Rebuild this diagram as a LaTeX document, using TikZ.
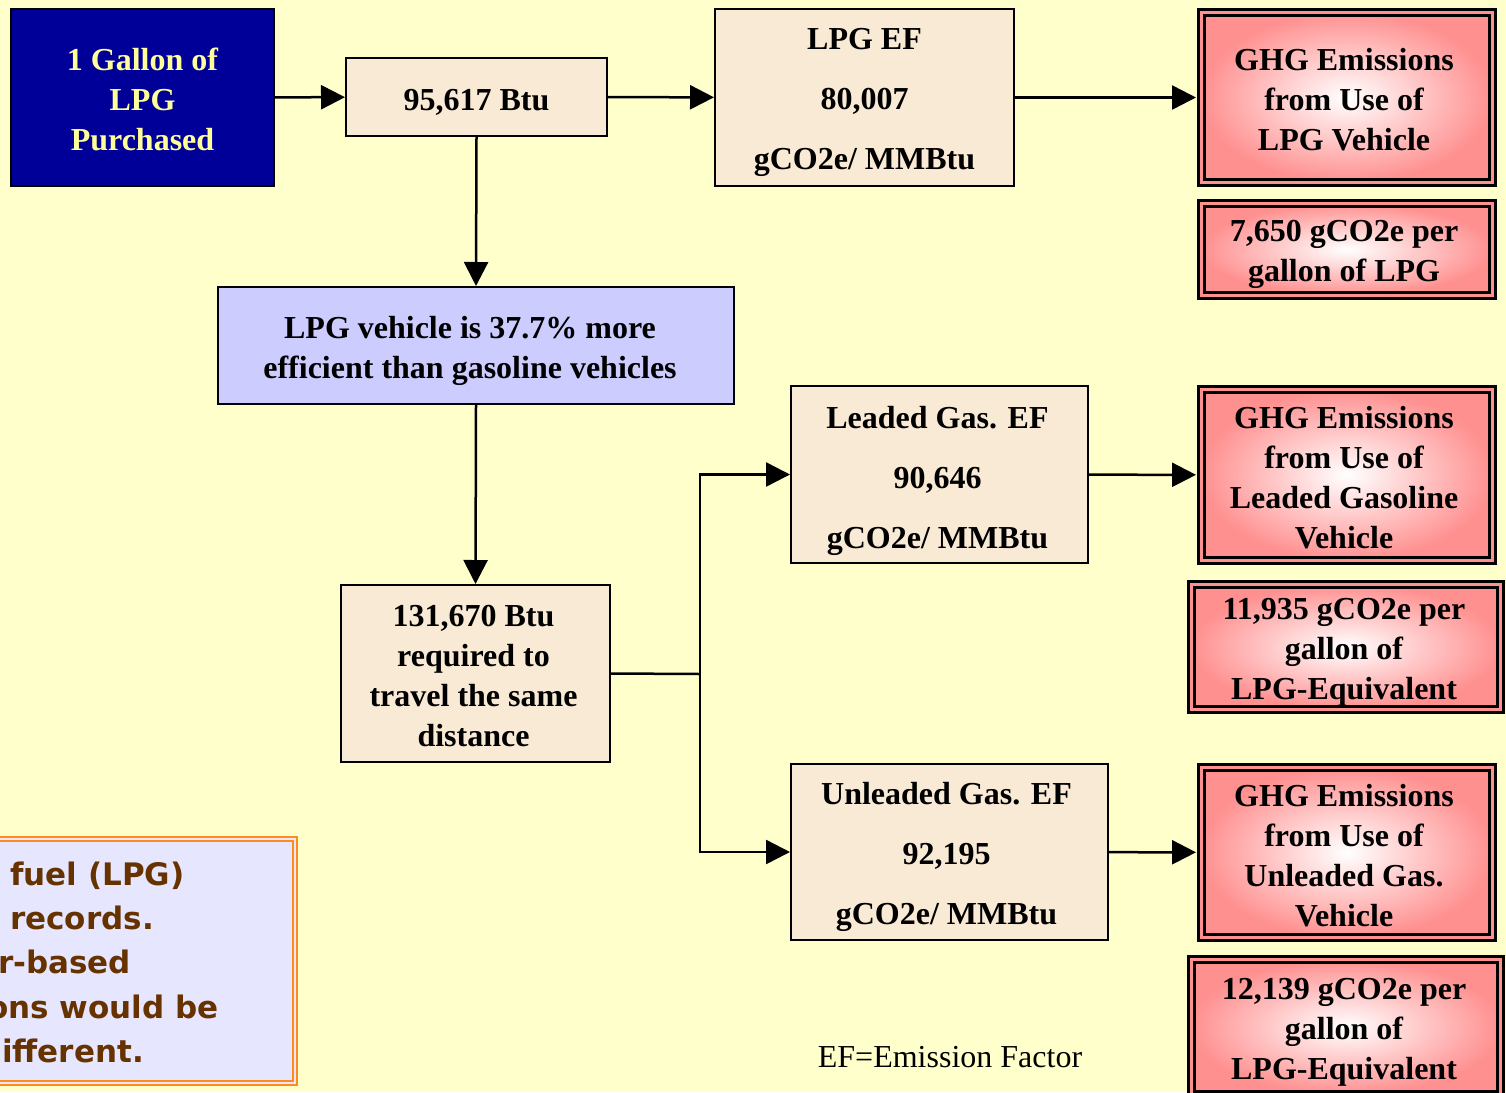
\documentclass[tikz,border=0pt]{standalone}
\usepackage{fontspec}
\setmainfont{Liberation Serif}
\newfontfamily\notefont{DejaVu Sans}
\usetikzlibrary{arrows.meta}
\definecolor{bg}{HTML}{FFFFCC}
\definecolor{navy}{HTML}{000099}
\definecolor{ltyellow}{HTML}{FFFF99}
\definecolor{beige}{HTML}{F9EAD5}
\definecolor{lav}{HTML}{CCCCFF}
\definecolor{pinkedge}{HTML}{FF9090}
\definecolor{notefill}{HTML}{E6E6FF}
\definecolor{noteedge}{HTML}{FF8C1A}
\definecolor{notetext}{HTML}{663300}
\tikzset{
  base/.style={rectangle, inner sep=0pt},
  txt/.style={align=center, inner sep=0pt, font=\bfseries\fontsize{32}{40}\selectfont},
  wide/.style={font=\bfseries\fontsize{32}{60}\selectfont},
  bluebox/.style={base, fill=navy, draw=black, line width=2pt},
  beigebox/.style={base, fill=beige, draw=black, line width=2pt},
  lavbox/.style={base, fill=lav, draw=black, line width=2pt},
  pinkbox/.style={base, inner color=white, outer color=pinkedge, draw=black, line width=3pt, double=pinkedge, double distance=3pt},
  arr/.style={line width=2.5pt, -{Triangle[length=24pt,width=24pt]}},
  conn/.style={line width=2.5pt},
}
\begin{document}
\begin{tikzpicture}[x=1pt,y=-1pt]
\useasboundingbox (0,0) rectangle (1506,1092);
\clip (0,0) rectangle (1506,1092);
\fill[bg] (0,0) rectangle (1506,1092);

% boxes
\node[bluebox, minimum width=263pt, minimum height=177pt] (gal) at (142.5,97.5) {};
\node[beigebox, minimum width=261pt, minimum height=78pt] (btu) at (476.5,97) {};
\node[beigebox, minimum width=299pt, minimum height=177pt] (lpgef) at (864.5,97.5) {};
\node[pinkbox, minimum width=291pt, minimum height=170pt] (ghg1) at (1347,97.5) {};
\node[pinkbox, minimum width=291pt, minimum height=92pt] (val1) at (1347,249.5) {};
\node[lavbox, minimum width=516pt, minimum height=117pt] (veh) at (476,345.5) {};
\node[beigebox, minimum width=269pt, minimum height=177pt] (req) at (475.5,673.5) {};
\node[beigebox, minimum width=297pt, minimum height=177pt] (lead) at (939.5,474.5) {};
\node[pinkbox, minimum width=291pt, minimum height=171pt] (ghg2) at (1347,475) {};
\node[pinkbox, minimum width=309pt, minimum height=125pt] (val2) at (1346,647) {};
\node[beigebox, minimum width=317pt, minimum height=176pt] (unl) at (949.5,852) {};
\node[pinkbox, minimum width=291pt, minimum height=170pt] (ghg3) at (1347,852.5) {};
\node[pinkbox, minimum width=309pt, minimum height=135pt] (val3) at (1346,1027) {};

% box texts
\node[txt, text=ltyellow] (gal-t) at ([yshift=-2pt]gal.center) {1 Gallon of\\LPG\\Purchased};
\node[txt] (btu-t) at ([yshift=-5pt]btu.center) {95,617 Btu};
\node[txt, wide] (lpgef-t) at ([yshift=-5pt]lpgef.center) {LPG EF\\80,007\\gCO2e/ MMBtu};
\node[txt] (ghg1-t) at ([xshift=-3pt,yshift=-2pt]ghg1.center) {GHG Emissions\\from Use of\\LPG Vehicle};
\node[txt] (val1-t) at ([xshift=-3pt,yshift=-5pt]val1.center) {7,650 gCO2e per\\gallon of LPG};
\node[txt] (veh-t) at ([xshift=-6pt,yshift=-5pt]veh.center) {LPG vehicle is 37.7\% more\\efficient than gasoline vehicles};
\node[txt] (req-t) at ([xshift=-2pt,yshift=-3pt]req.center) {131,670 Btu\\required to\\travel the same\\distance};
\node[txt, wide] (lead-t) at ([xshift=-2pt,yshift=-6pt]lead.center) {Leaded Gas. EF\\90,646\\gCO2e/ MMBtu};
\node[txt] (ghg2-t) at ([xshift=-3pt,yshift=-3pt]ghg2.center) {GHG Emissions\\from Use of\\Leaded Gasoline\\Vehicle};
\node[txt] (val2-t) at ([xshift=-2pt,yshift=-5pt]val2.center) {11,935 gCO2e per\\gallon of\\LPG-Equivalent};
\node[txt, wide] (unl-t) at ([xshift=-3pt,yshift=-5pt]unl.center) {Unleaded Gas. EF\\92,195\\gCO2e/ MMBtu};
\node[txt] (ghg3-t) at ([xshift=-3pt,yshift=-3pt]ghg3.center) {GHG Emissions\\from Use of\\Unleaded Gas.\\Vehicle};
\node[txt] (val3-t) at ([xshift=-2pt,yshift=-5pt]val3.center) {12,139 gCO2e per\\gallon of\\LPG-Equivalent};

\node[font=\fontsize{32}{36}\selectfont, anchor=base, inner sep=0pt] (efnote) at (950,1067) {EF=Emission Factor};

% bottom-left note box (cut off at the left edge)
\node[rectangle, fill=notefill, draw=noteedge, line width=2pt, double=notefill, double distance=2pt, minimum width=340pt, minimum height=244pt] (note) at (125,961) {};
\begin{scope}[font=\notefont\bfseries\fontsize{31}{44}\selectfont, text=notetext]
\node[anchor=base west, inner sep=0pt] (n1) at (10,885) {fuel (LPG)};
\node[anchor=base west, inner sep=0pt] (n2) at (10,929) {records.};
\node[anchor=base west, inner sep=0pt] (n3) at (-2,973) {r-based};
\node[anchor=base west, inner sep=0pt] (n4) at (-13,1018) {ons would be};
\node[anchor=base west, inner sep=0pt] (n5) at (2,1062) {ifferent.};
\end{scope}

% connectors
\draw[arr] (gal) -- (btu);
\draw[arr] (btu) -- (lpgef);
\draw[arr, shorten >=4pt] (lpgef) -- (ghg1);
\draw[arr] (btu.south) -- (veh.north);
\draw[arr] (veh.south) -- (req.north);
\coordinate (br) at (700,674);
\draw[conn] (req.east) -- (br);
\draw[arr] (br) |- (lead.west);
\draw[arr] (br) |- (unl.west);
\draw[arr, shorten >=4pt] (lead) -- (ghg2);
\draw[arr, shorten >=4pt] (unl) -- (ghg3);
\end{tikzpicture}
\end{document}
